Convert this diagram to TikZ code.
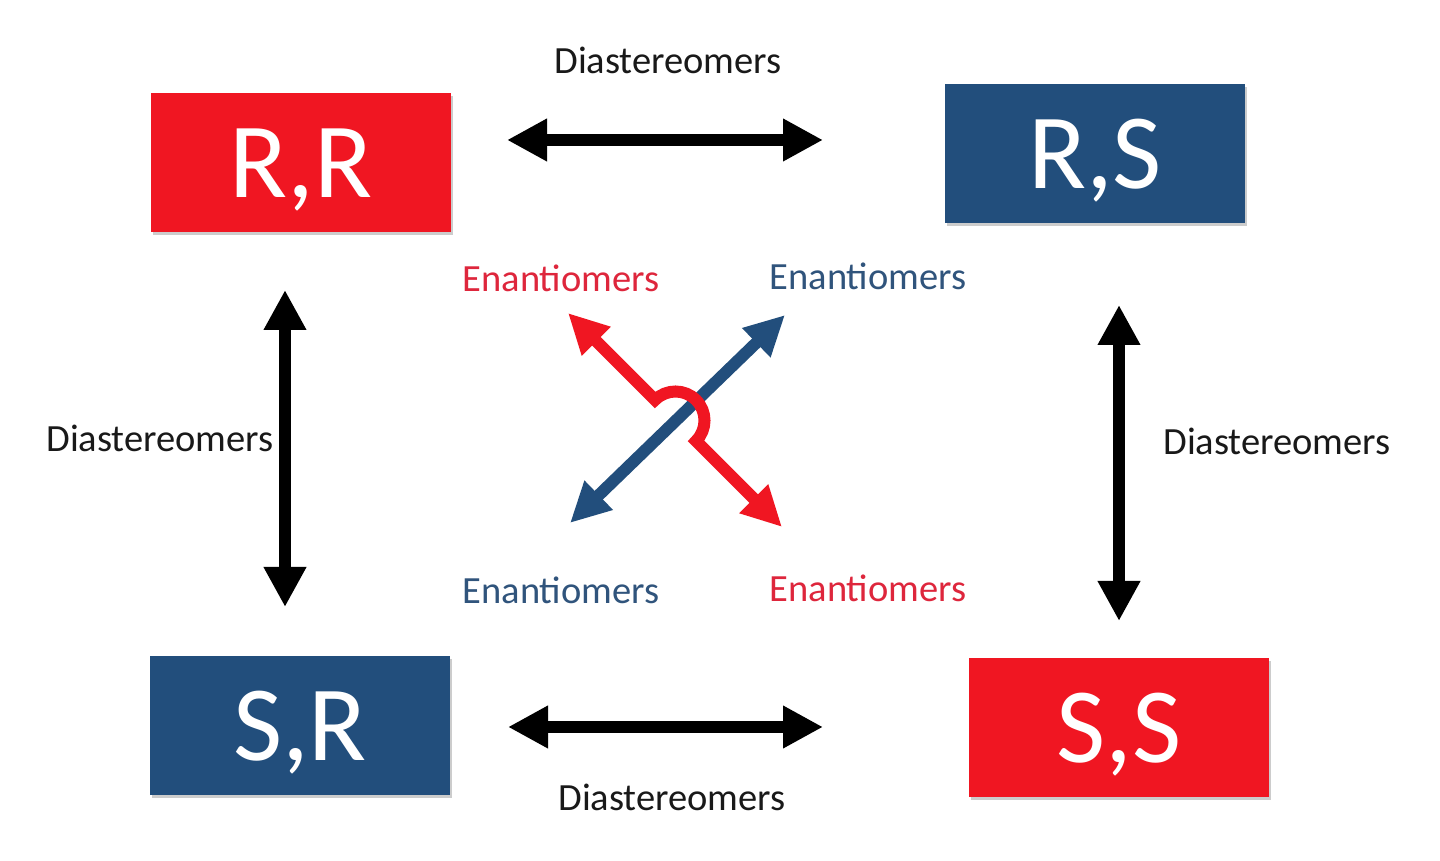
\documentclass[tikz,border=0pt]{standalone}
\usepackage{fontspec}
\setmainfont{Carlito}
\usetikzlibrary{arrows.meta,shadows}
\definecolor{boxred}{RGB}{240,22,34}
\definecolor{boxblue}{RGB}{34,78,124}
\definecolor{txtred}{RGB}{222,38,60}
\definecolor{txtblue}{RGB}{48,84,124}
\definecolor{txtblack}{RGB}{25,25,25}
\tikzset{
  isobox/.style={rectangle, minimum width=300pt, minimum height=139pt, inner sep=0pt,
    text=white, text height=70pt, text depth=0pt,
    font=\fontsize{107}{120}\selectfont,
    drop shadow={shadow xshift=2pt, shadow yshift=-3pt, opacity=0.2, fill=black}},
  redbox/.style={isobox, fill=boxred},
  bluebox/.style={isobox, fill=boxblue},
  dialabel/.style={inner sep=0pt, text=txtblack, font=\fontsize{38.5}{44}\selectfont},
  enalabel/.style={inner sep=0pt, font=\fontsize{38.5}{44}\selectfont},
  diarrow/.style={line width=12pt, black,
    {Triangle[length=40pt,width=40pt]}-{Triangle[length=40pt,width=40pt]}},
  enarrow/.style={line width=12pt,
    {Triangle[length=40pt,width=38pt]}-{Triangle[length=40pt,width=38pt]}}
}
\begin{document}
\begin{tikzpicture}[x=1pt,y=1pt]
\useasboundingbox (0,0) rectangle (1440,861);
\fill[white] (0,0) rectangle (1440,861);

% boxes
\node[redbox]  (RR) at (301,698.5) {R,R};
\node[bluebox] (RS) at (1095,707.5) {R,S};
\node[bluebox] (SR) at (300,135.5) {S,R};
\node[redbox]  (SS) at (1119,133.5) {S,S};

% diastereomer arrows
\coordinate (t1) at (507,721);
\coordinate (t2) at (823,721);
\coordinate (b1) at (508,134);
\coordinate (b2) at (823,134);
\coordinate (l1) at (285,571);
\coordinate (l2) at (285,254);
\coordinate (r1) at (1119,556);
\coordinate (r2) at (1119,240);
\draw[diarrow] (t1) -- (t2);
\draw[diarrow] (b1) -- (b2);
\draw[diarrow] (l1) -- (l2);
\draw[diarrow] (r1) -- (r2);

% diastereomer labels
\node[dialabel] (dtop) at (668,801) {Diastereomers};
\node[dialabel] (dbot) at (672,64) {Diastereomers};
\node[dialabel] (dleft) at (160,423) {Diastereomers};
\node[dialabel] (dright) at (1277,420) {Diastereomers};

% enantiomer arrows
\coordinate (bl) at (570,338);
\coordinate (tr) at (785,546);
\coordinate (tl) at (568,548);
\coordinate (br) at (782,334);
\coordinate (hopA) at (655,461);
\draw[enarrow, boxblue] (bl) -- (tr);
\draw[enarrow, boxred] (tl) -- (hopA) arc[start angle=135, end angle=-45, radius=29pt] -- (br);

% enantiomer labels
\node[enalabel, text=txtred]  (e1) at (561,583) {Enantiomers};
\node[enalabel, text=txtblue] (e2) at (868,585) {Enantiomers};
\node[enalabel, text=txtblue] (e3) at (561,271) {Enantiomers};
\node[enalabel, text=txtred]  (e4) at (868,273) {Enantiomers};
\end{tikzpicture}
\end{document}
